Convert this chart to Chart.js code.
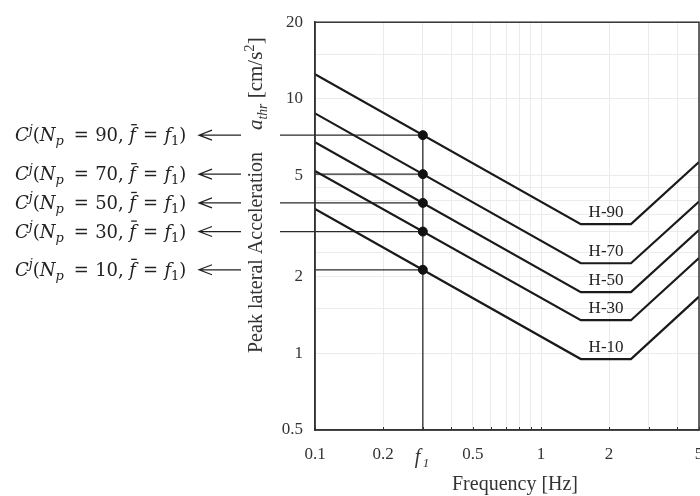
<!DOCTYPE html>
<html>
<head>
<meta charset="utf-8">
<script src="https://cdn.jsdelivr.net/npm/chart.js"></script>
<style>
  html, body { margin: 0; padding: 0; background: #fff; overflow: hidden; }
  #chart { display: block; }
</style>
</head>
<body>
<canvas id="chart" width="720" height="496"></canvas>
<script>
// Threshold curves H-xx: break frequencies [Hz] and acceleration [cm/s2]
var curveFreqs = [0.1, 1.5, 2.5, 5];
var curveNames = ['H-90', 'H-70', 'H-50', 'H-30', 'H-10'];
var curveH90 = [12.5, 3.22, 3.22, 5.65];
var curveH70 = [8.77, 2.26, 2.26, 3.95];
var curveH50 = [6.75, 1.74, 1.74, 3.05];
var curveH30 = [5.21, 1.35, 1.35, 2.37];
var curveH10 = [3.69, 0.95, 0.95, 1.67];

// Values picked off at f1 for each Np
var f1 = 0.3;
var npLevels = [90, 70, 50, 30, 10];
var f1Values = [7.2, 5.06, 3.9, 3.01, 2.13];
var guideStart = [0.07, 0.1, 0.07, 0.07, 0.1];

// axis ticks
var xGridValues = [0.1, 0.2, 0.3, 0.4, 0.5, 0.6, 0.7, 0.8, 0.9, 1, 2, 3, 4, 5];
var xTickLabels = [0.1, 0.2, 0.5, 1, 2, 5];
var yGridValues = [0.5, 1, 1.5, 2, 2.5, 3, 3.5, 4, 4.5, 5, 10, 15, 20];
var yTickLabels = [0.5, 1, 2, 5, 10, 20];
var hLabelFreq = 1.94;

var serif = '"Liberation Serif", "Times New Roman", serif';
var mathFont = '"DejaVu Serif", serif';

var curveValues = [curveH90, curveH70, curveH50, curveH30, curveH10];

var datasets = [];

// black dots at f1
datasets.push({
    label: 'f1 points',
    data: f1Values.map(function (v) { return { x: f1, y: v }; }),
    showLine: false,
    pointRadius: 4.5,
    pointBackgroundColor: '#111',
    pointBorderColor: '#111'
});

curveValues.forEach(function (vals, i) {
    datasets.push({
        label: curveNames[i],
        data: curveFreqs.map(function (f, j) { return { x: f, y: vals[j] }; }),
        showLine: true,
        borderColor: '#1a1a1a',
        borderWidth: 2.2,
        pointRadius: 0
    });
});

// horizontal guides from the left labels to the dots
npLevels.forEach(function (np, i) {
    datasets.push({
        label: 'guide ' + np,
        data: [{ x: guideStart[i], y: f1Values[i] }, { x: f1, y: f1Values[i] }],
        showLine: true,
        borderColor: '#2a2a2a',
        borderWidth: 1.3,
        pointRadius: 0,
        clip: false
    });
});

// vertical line at f1
datasets.push({
    label: 'f1 line',
    data: [{ x: f1, y: 0.5 }, { x: f1, y: f1Values[0] }],
    showLine: true,
    borderColor: '#2a2a2a',
    borderWidth: 1.3,
    pointRadius: 0
});

// draws a run of text pieces (italic, sub/superscript, gaps) left to right
function drawRuns(c, x, y, runs, size, family) {
    c.textAlign = 'left';
    runs.forEach(function (r) {
        x += (r.gap || 0) * size;
        var s = size * (r.scale || 1);
        c.font = (r.italic ? 'italic ' : '') + s + 'px ' + family;
        c.fillText(r.text, x, y + (r.dy || 0) * size);
        var w = c.measureText(r.text).width;
        if (r.bar) {
            c.fillRect(x + w * 0.3, y - size * 0.95, w * 0.85, 1.3);
        }
        x += w;
    });
    return x;
}

var decorations = {
    id: 'decorations',
    afterDraw: function (chart) {
        var c = chart.ctx, a = chart.chartArea;
        var xs = chart.scales.x, ys = chart.scales.y;
        c.save();

        // frame
        c.strokeStyle = '#333';
        c.lineWidth = 1.5;
        c.strokeRect(a.left, a.top, a.right - a.left, a.bottom - a.top);

        // small ticks on the bottom axis
        c.lineWidth = 1;
        c.beginPath();
        xGridValues.forEach(function (v) {
            var px = Math.round(xs.getPixelForValue(v)) + 0.5;
            c.moveTo(px, a.bottom);
            c.lineTo(px, a.bottom - 3);
        });
        c.stroke();

        c.fillStyle = '#333';
        c.textBaseline = 'alphabetic';
        c.textAlign = 'left';

        // f1 tick label
        var fx = xs.getPixelForValue(f1);
        c.font = 'italic 20px ' + serif;
        c.fillText('f', fx - 8, 463);
        c.font = 'italic 13px ' + serif;
        c.fillText('1', fx, 467);

        // curve names above the flat parts
        c.textAlign = 'center';
        c.font = '17px ' + serif;
        c.fillStyle = '#222';
        curveValues.forEach(function (vals, i) {
            c.fillText(curveNames[i], xs.getPixelForValue(hLabelFreq), ys.getPixelForValue(vals[1]) - 7);
        });

        // x axis title
        c.fillStyle = '#333';
        c.font = '20px ' + serif;
        c.fillText('Frequency [Hz]', 515, 490);

        // y axis title, rotated
        c.save();
        c.translate(262, 353);
        c.rotate(-Math.PI / 2);
        var tx = drawRuns(c, 0, 0, [{ text: 'Peak lateral Acceleration' }], 20, serif);
        drawRuns(c, tx + 22, 0, [
            { text: 'a', italic: true },
            { text: 'thr', italic: true, scale: 0.65, dy: 0.25 },
            { text: ' [cm/s' },
            { text: '2', scale: 0.7, dy: -0.4 },
            { text: ']' }
        ], 21, serif);
        c.restore();

        // left labels C^j(Np, f = f1) with arrows
        c.fillStyle = '#222';
        c.strokeStyle = '#222';
        c.lineWidth = 1.2;
        npLevels.forEach(function (np, i) {
            var y = ys.getPixelForValue(f1Values[i]);
            drawRuns(c, 15, y + 6, [
                { text: 'C', italic: true },
                { text: 'j', italic: true, scale: 0.72, dy: -0.42 },
                { text: '(' },
                { text: 'N', italic: true },
                { text: 'p', italic: true, scale: 0.72, dy: 0.22 },
                { text: '=', gap: 0.55 },
                { text: np + ',', gap: 0.35 },
                { text: 'f', italic: true, bar: true, gap: 0.3 },
                { text: '=', gap: 0.4 },
                { text: 'f', italic: true, gap: 0.35 },
                { text: '1', scale: 0.72, dy: 0.22 },
                { text: ')' }
            ], 18, mathFont);
            c.beginPath();
            c.moveTo(241, y);
            c.lineTo(199, y);
            c.moveTo(212, y - 5);
            c.lineTo(199, y);
            c.lineTo(212, y + 5);
            c.stroke();
        });

        c.restore();
    }
};

new Chart(document.getElementById('chart'), {
    type: 'scatter',
    data: { datasets: datasets },
    options: {
        responsive: false,
        animation: false,
        devicePixelRatio: 1,
        layout: { padding: { left: 0, right: 21, top: 13, bottom: 0 } },
        plugins: { legend: { display: false }, tooltip: { enabled: false } },
        scales: {
            x: {
                type: 'logarithmic',
                min: 0.1,
                max: 5,
                afterBuildTicks: function (s) {
                    s.ticks = xGridValues.map(function (v) { return { value: v }; });
                },
                afterFit: function (s) { s.height = 66; },
                grid: { color: '#ebebeb', lineWidth: 1, drawTicks: false },
                border: { display: true, color: '#333', width: 1.5 },
                ticks: {
                    autoSkip: false,
                    maxRotation: 0,
                    padding: 14,
                    color: '#333',
                    font: { family: serif, size: 17 },
                    callback: function (v) { return xTickLabels.indexOf(v) >= 0 ? String(v) : ''; }
                }
            },
            y: {
                type: 'logarithmic',
                min: 0.5,
                max: 20,
                afterBuildTicks: function (s) {
                    s.ticks = yGridValues.map(function (v) { return { value: v }; });
                },
                afterFit: function (s) { s.width = 315; },
                grid: { color: '#ebebeb', lineWidth: 1, drawTicks: false },
                border: { display: true, color: '#333', width: 1.5 },
                ticks: {
                    autoSkip: false,
                    padding: 12,
                    color: '#333',
                    font: { family: serif, size: 17 },
                    callback: function (v) { return yTickLabels.indexOf(v) >= 0 ? String(v) : ''; }
                }
            }
        }
    },
    plugins: [decorations]
});
</script>
</body>
</html>
